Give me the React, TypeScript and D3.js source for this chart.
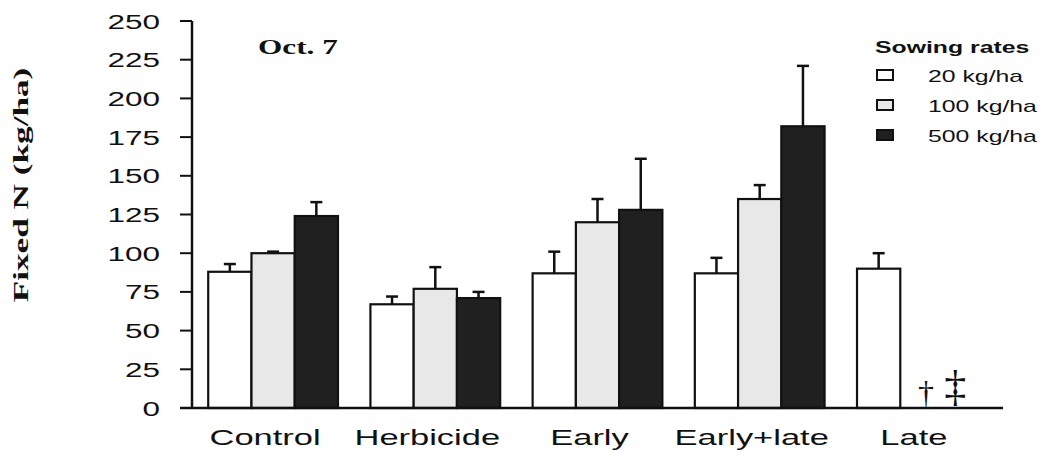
import * as d3 from "d3";

// treatments on the x axis
const categories = ["Control", "Herbicide", "Early", "Early+late", "Late"];
const rates = ["20 kg/ha", "100 kg/ha", "500 kg/ha"];

// fixed N (kg/ha) per sowing rate, null = no plants
const rate20 = [88, 67, 87, 87, 90];
const rate100 = [100, 77, 120, 135, null];
const rate500 = [124, 71, 128, 182, null];

// standard errors
const se20 = [5, 5, 14, 10, 10];
const se100 = [1, 14, 15, 9, null];
const se500 = [9, 4, 33, 39, null];

// marks shown where there is no bar
const missingMarks = [null, "\u2020", "\u2021"];

const yTicks = [0, 25, 50, 75, 100, 125, 150, 175, 200, 225, 250];

const fills = ["#ffffff", "#e8e8e8", "#202020"];
const series = [rate20, rate100, rate500];
const errors = [se20, se100, se500];

const width = 1047;
const height = 454;
const sans = "'Liberation Sans', Arial, sans-serif";
const serif = "'Liberation Serif', 'Times New Roman', serif";
const stretch = 1.5;

export default function App() {
  const y = d3.scaleLinear().domain([0, 250]).range([408, 21]);
  const x0 = d3.scaleBand<string>()
    .domain(categories)
    .range([192, 1003])
    .paddingInner(0.2)
    .paddingOuter(0.1);
  const x1 = d3.scaleBand<string>()
    .domain(rates)
    .range([0, x0.bandwidth()]);

  return (
    <svg
      width={width}
      height={height}
      style={{ position: "absolute", left: 0, top: 0, background: "#fff" }}
    >
      {/* bars */}
      {categories.map((cat, i) =>
        rates.map((rate, s) => {
          const v = series[s][i];
          const bx = (x0(cat) as number) + (x1(rate) as number);
          const bw = x1.bandwidth();
          if (v == null) {
            const mark = missingMarks[s];
            if (!mark) return null;
            // marks sit a little toward each other, as in the original
            const shift = s === 1 ? 4 : -10;
            return (
              <text
                key={cat + rate}
                x={bx + bw / 2 + shift}
                y={y(0) - (s === 1 ? 5 : 7)}
                textAnchor="middle"
                fontFamily={serif}
                fontSize={s === 1 ? 32 : 44}
                fill="#111"
              >
                {mark}
              </text>
            );
          }
          const e = errors[s][i] as number;
          const cx = bx + bw / 2;
          return (
            <g key={cat + rate}>
              <line x1={cx} x2={cx} y1={y(v)} y2={y(v + e)} stroke="#111" strokeWidth={2.5} />
              <line x1={cx - 6} x2={cx + 6} y1={y(v + e)} y2={y(v + e)} stroke="#111" strokeWidth={2.5} />
              <rect
                x={bx}
                y={y(v)}
                width={bw}
                height={y(0) - y(v)}
                fill={fills[s]}
                stroke="#111"
                strokeWidth={2.2}
              />
            </g>
          );
        })
      )}

      {/* y axis */}
      <line x1={192} x2={192} y1={y(250)} y2={y(0)} stroke="#111" strokeWidth={2.5} />
      {yTicks.map((t) => (
        <g key={t}>
          <line x1={180} x2={192} y1={y(t)} y2={y(t)} stroke="#111" strokeWidth={2} />
          <text
            transform={`translate(160,${y(t) + 7.5}) scale(${stretch},1)`}
            textAnchor="end"
            fontFamily={sans}
            fontSize={21}
            fill="#111"
          >
            {t}
          </text>
        </g>
      ))}

      {/* x axis */}
      <line x1={180} x2={1003} y1={y(0)} y2={y(0)} stroke="#111" strokeWidth={2.5} />
      {categories.map((cat) => (
        <text
          key={cat}
          transform={`translate(${(x0(cat) as number) + x0.bandwidth() / 2 - 8},445) scale(${stretch},1)`}
          textAnchor="middle"
          fontFamily={sans}
          fontSize={23}
          fill="#111"
        >
          {cat}
        </text>
      ))}

      {/* y label */}
      <text
        transform="translate(28,185) rotate(-90) scale(1.6,1)"
        textAnchor="middle"
        fontFamily={serif}
        fontWeight="bold"
        fontSize={22}
        fill="#111"
      >
        Fixed N (kg/ha)
      </text>

      {/* panel label */}
      <text
        transform="translate(258,54) scale(1.42,1)"
        fontFamily={serif}
        fontWeight="bold"
        fontSize={22}
        fill="#111"
      >
        Oct. 7
      </text>

      {/* legend */}
      <text
        transform="translate(875,53) scale(1.55,1)"
        fontFamily={sans}
        fontWeight="bold"
        fontSize={16}
        fill="#111"
      >
        Sowing rates
      </text>
      {rates.map((rate, s) => (
        <g key={rate} transform={`translate(0,${82 + s * 30})`}>
          <rect x={877} y={-12} width={16} height={10} fill={fills[s]} stroke="#111" strokeWidth={2} />
          <text
            transform={`translate(928,0) scale(1.55,1)`}
            fontFamily={sans}
            fontSize={16}
            fill="#111"
          >
            {rate}
          </text>
        </g>
      ))}
    </svg>
  );
}
